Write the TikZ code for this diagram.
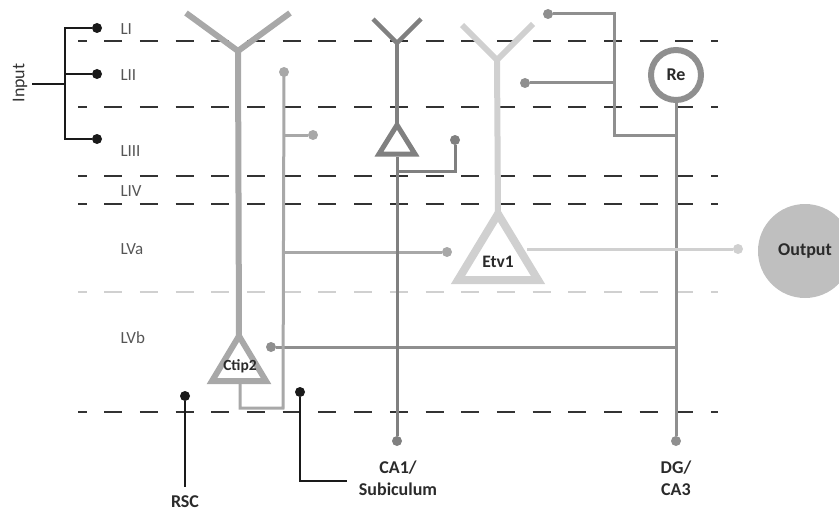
\documentclass[tikz,border=0pt]{standalone}
\usepackage{fontspec}
\setmainfont{Carlito}
\definecolor{cdash}{HTML}{333333}
\definecolor{clight}{HTML}{D0D0D0}
\definecolor{cctip}{HTML}{A8A8A8}
\definecolor{cca}{HTML}{808080}
\definecolor{cre}{HTML}{8F8F8F}
\definecolor{cout}{HTML}{BFBFBF}
\definecolor{ctext}{HTML}{555555}
\definecolor{cblk}{HTML}{1A1A1A}
\definecolor{cbtext}{HTML}{2A2A2A}
\begin{document}
\begin{tikzpicture}[x=1pt,y=-1pt,
  layer/.style={line width=1.8pt, dash pattern=on 18pt off 17.7pt, dash phase=9.5pt},
  dot/.style={circle, inner sep=0pt, minimum size=10pt, draw=none},
  bdot/.style={dot, fill=cblk},
  blk/.style={line width=2.6pt, draw=cblk},
  laylab/.style={anchor=west, text=ctext, font=\fontsize{17}{17}\selectfont},
  blab/.style={text=cbtext, font=\fontsize{18}{22}\selectfont\bfseries, align=center},
  tri/.style={line join=miter},
  ax/.style={line width=3pt}
]
\useasboundingbox (0,0) rectangle (839,511);

% layer boundaries
\coordinate (l1a) at (78,41);  \coordinate (l1b) at (718,41);
\coordinate (l2a) at (78,107); \coordinate (l2b) at (718,107);
\coordinate (l3a) at (78,176); \coordinate (l3b) at (718,176);
\coordinate (l4a) at (78,204); \coordinate (l4b) at (718,204);
\coordinate (l5a) at (78,292); \coordinate (l5b) at (718,292);
\coordinate (l6a) at (78,412); \coordinate (l6b) at (718,412);
\draw[layer, cdash] (l1a) -- (l1b);
\draw[layer, cdash] (l2a) -- (l2b);
\draw[layer, cdash] (l3a) -- (l3b);
\draw[layer, cdash] (l4a) -- (l4b);
\draw[layer, clight] (l5a) -- (l5b);
\draw[layer, cdash] (l6a) -- (l6b);

% layer labels
\node[laylab] (tLI) at (117,29) {LI};
\node[laylab] (tLII) at (117,75) {LII};
\node[laylab] (tLIII) at (117,151) {LIII};
\node[laylab] (tLIV) at (117,191) {LIV};
\node[laylab] (tLVa) at (117,249) {LVa};
\node[laylab] (tLVb) at (117,338) {LVb};

% input
\node[rotate=90, text=cdash, font=\fontsize{18}{18}\selectfont] (input) at (20,83) {Input};
\coordinate (in0) at (32,84);
\coordinate (ij) at (65,84);
\coordinate (it) at (65,28);
\coordinate (ib) at (65,139);
\node[bdot] (i1) at (97,28) {};
\node[bdot] (i2) at (97,74) {};
\node[bdot] (i3) at (97,139) {};
\draw[blk] (in0) -- (ij);
\draw[blk] (i1) -- (it) -- (ib) -- (i3);
\draw[blk] (ij |- i2) -- (i2);

% Re neuron and its lines
\node[circle, draw=cre, line width=6pt, minimum size=50pt, inner sep=0pt, font=\fontsize{18}{18}\selectfont\bfseries, text=cbtext] (re) at (676,75) {Re};
\node[dot, fill=cre] (dg) at (676,441) {};
\draw[ax, cre] (re.south) -- (dg);
\node[dot, fill=cre] (t1) at (548,14) {};
\node[dot, fill=cre] (t2) at (525,83) {};
\coordinate (tc1) at (614,14);
\coordinate (tc2) at (614,135);
\coordinate (tc3) at (676,135);
\coordinate (tc4) at (614,83);
\draw[ax, cre] (t1) -- (tc1) -- (tc2) -- (tc3);
\draw[ax, cre] (t2) -- (tc4);
\node[dot, fill=cre] (r1) at (271,347) {};
\coordinate (rj2) at (676,347);
\draw[ax, cre] (r1) -- (rj2);

% Ctip2 neuron
\coordinate (cy1) at (186,13);
\coordinate (cy2) at (290,13);
\coordinate (cyj) at (238,51);
\coordinate (cap) at (239,336);
\draw[line width=6pt, cctip] (cy1) -- (cyj) -- (cy2);
\draw[line width=6pt, cctip] (cyj) -- (cap);
\draw[line width=6pt, cctip, tri] (cap) -- (266,381) -- (212,381) -- cycle;
\node[font=\fontsize{15.5}{15.5}\selectfont\bfseries, text=cbtext] (ctip) at (240,366) {Ctip2};
\coordinate (cb) at (240,384);
\coordinate (cc) at (240,408);
\coordinate (cd) at (283,408);
\node[dot, fill=cctip] (a1) at (284,72) {};
\node[dot, fill=cctip] (a2) at (313,135) {};
\node[dot, fill=cctip] (a3) at (447,252) {};
\coordinate (b1) at (283,135);
\coordinate (b2) at (283,252);
\draw[ax, cctip] (cb) -- (cc) -- (cd) -- (a1.center);
\draw[ax, cctip] (b1) -- (a2);
\draw[ax, cctip] (b2) -- (a3);

% CA1-projecting neuron
\coordinate (ky1) at (373,19);
\coordinate (ky2) at (421,19);
\coordinate (kyj) at (397,43);
\coordinate (kap) at (397,125);
\draw[line width=4.5pt, cca] (ky1) -- (kyj) -- (ky2);
\draw[line width=4.5pt, cca] (kyj) -- (kap);
\draw[line width=5pt, cca, tri] (kap) -- (415,154) -- (379,154) -- cycle;
\coordinate (kb) at (397,157);
\node[dot, fill=cca] (ca) at (397,441) {};
\draw[ax, cca] (kb) -- (ca);
\coordinate (kc1) at (397,171);
\coordinate (kc2) at (455,171);
\node[dot, fill=cca] (kd) at (455,140) {};
\draw[ax, cca] (kc1) -- (kc2) -- (kd);

% Etv1 neuron
\coordinate (ey1) at (462,25);
\coordinate (ey2) at (533,24);
\coordinate (eyj) at (497,60);
\coordinate (eap) at (498,214);
\draw[line width=6pt, clight] (ey1) -- (eyj) -- (ey2);
\draw[line width=6pt, clight] (eyj) -- (eap);
\draw[line width=8pt, clight, tri] (eap) -- (538,280) -- (458,280) -- cycle;
\node[font=\fontsize{17.5}{17.5}\selectfont\bfseries, text=cbtext] (etv) at (498,262) {Etv1};
\coordinate (eo) at (527,249);
\node[dot, fill=clight] (od) at (738,249) {};
\draw[ax, clight] (eo) -- (od);

% Output
\node[circle, fill=cout, minimum size=94pt, inner sep=0pt, font=\fontsize{18}{18}\selectfont\bfseries, text=cbtext] (out) at (805,251) {Output};

% bottom inputs
\node[bdot] (rscd) at (185,396) {};
\coordinate (rsce) at (185,487);
\draw[blk] (rscd) -- (rsce);
\node[blab] (rsc) at (185,502) {RSC};
\node[bdot] (subd) at (300,392) {};
\coordinate (sube) at (300,481);
\coordinate (subf) at (347,481);
\draw[blk] (subd) -- (sube) -- (subf);
\node[blab] (sub) at (398,478) {CA1/\\Subiculum};
\node[blab] (dgl) at (676,478) {DG/\\CA3};
\end{tikzpicture}
\end{document}
